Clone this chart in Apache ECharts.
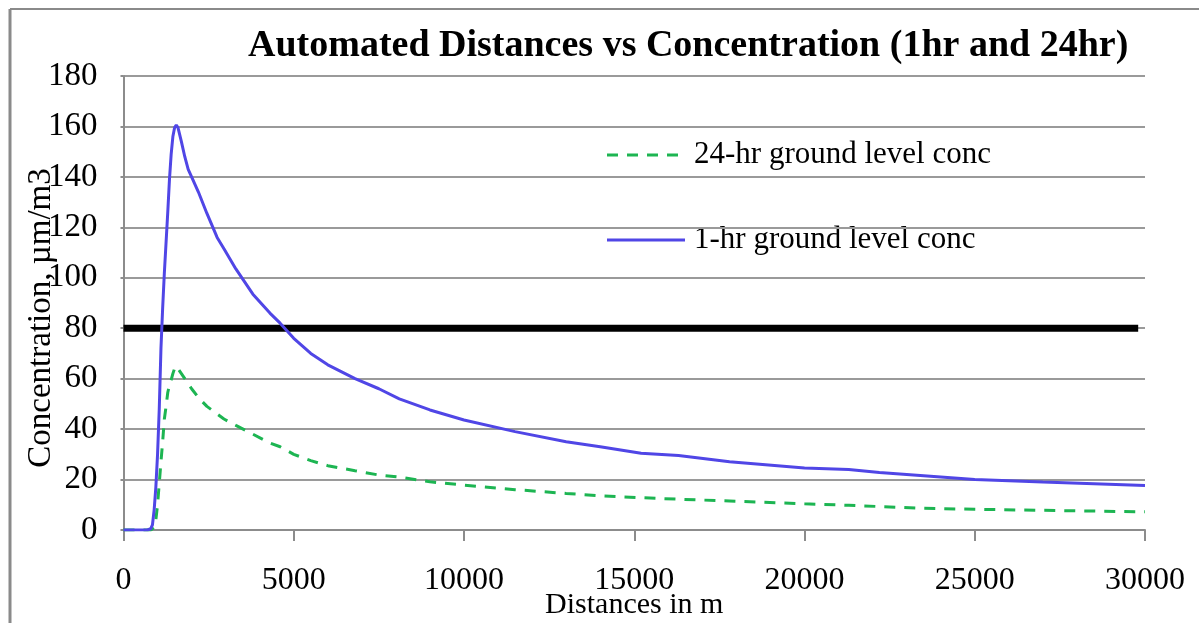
<!DOCTYPE html>
<html>
<head>
<meta charset="utf-8">
<script src="https://cdn.jsdelivr.net/npm/echarts@6/dist/echarts.min.js"></script>
<style>
html,body{margin:0;padding:0;background:#fff;}
#chart{width:1199px;height:623px;}
</style>
</head>
<body>
<div id="chart"></div>
<script>
var distances = [0,700,800,850,900,950,1000,1050,1100,1150,1200,1250,1300,1350,1400,1450,1500,1550,1600,1700,1800,1900,2000,2200,2450,2750,2950,3300,3800,4300,4600,5000,5500,6000,6800,7500,8100,9000,10000,11500,13000,14000,15200,16300,17800,20000,21300,22200,23500,25000,27000,30000];
var conc1hr = [0,0,0.5,2,8,17,30,48,72,88,102,114,126,139,149,156,159.5,160.5,159.5,154,148,143,140,134,125.5,116,111.5,103.5,93.5,86,82,76,70,65.5,60,56,52,47.6,43.6,39,35,33,30.4,29.5,27.1,24.6,24,22.8,21.5,20,19,17.6];
var conc24hr = [0,0,0,0,1,4,10,18.5,27,35,44,49,54.5,57.5,59.5,62,64,65,64,62,60,58,56,52.5,49,46,44,41.5,38,34.5,33,30,27.5,25.5,23.5,21.8,21,19.1,17.8,16,14.5,13.6,12.8,12.2,11.5,10.4,9.8,9.3,8.6,8.2,7.8,7.2];
var limitX = [0, 29800];
var limitY = [80, 80];
var xTicks = [0,5000,10000,15000,20000,25000,30000];
var yTicks = [0,20,40,60,80,100,120,140,160,180];
var seriesNames = ['24-hr ground level conc', '1-hr ground level conc'];
var titleText = 'Automated Distances vs Concentration (1hr and 24hr)';
var xName = 'Distances in m';
var yName = 'Concentration, µm/m3';

var BLUE = '#5046e6', GREEN = '#1db552';
function zip(a, b){ return a.map(function(v,i){ return [v, b[i]]; }); }

var FONT = '"Liberation Serif", "Times New Roman", serif';
var chart = echarts.init(document.getElementById('chart'));
chart.setOption({
  animation: false,
  backgroundColor: '#fff',
  title: {
    text: titleText,
    left: 243, top: 22,
    textStyle: {fontFamily: FONT, fontWeight: 'bold', fontSize: 38, color: '#000'}
  },
  grid: {left: 123.5, right: 54, top: 76, bottom: 93, containLabel: false, outerBoundsMode: 'none'},
  xAxis: {
    type: 'value', min: xTicks[0], max: xTicks[xTicks.length-1], interval: 5000,
    name: xName, nameLocation: 'middle', nameGap: 60, nameMoveOverlap: false,
    nameTextStyle: {fontFamily: FONT, fontSize: 30, color: '#000'},
    axisLine: {lineStyle: {color: '#8c8c8c', width: 2}},
    axisTick: {show: true, length: 11, lineStyle: {color: '#8c8c8c', width: 2}},
    axisLabel: {fontFamily: FONT, fontSize: 32, color: '#000', margin: 35,
      formatter: function(v){ return String(v); }},
    splitLine: {show: false}
  },
  yAxis: {
    type: 'value', min: yTicks[0], max: yTicks[yTicks.length-1], interval: 20,
    name: yName, nameLocation: 'middle', nameGap: 66, nameRotate: 90, nameMoveOverlap: false,
    nameTextStyle: {fontFamily: FONT, fontSize: 33, color: '#000', padding: [0, 30, 0, 0]},
    axisLine: {show: true, lineStyle: {color: '#8c8c8c', width: 2}},
    axisTick: {show: true, length: 3, lineStyle: {color: '#8c8c8c', width: 2}},
    axisLabel: {fontFamily: FONT, fontSize: 33, color: '#000', margin: 26},
    splitLine: {show: true, lineStyle: {color: '#9a9a9a', width: 2}}
  },
  graphic: [
    {type: 'line', shape: {x1: 10, y1: 9, x2: 10, y2: 623}, style: {stroke: '#8a8a8a', lineWidth: 3}},
    {type: 'line', shape: {x1: 10, y1: 9, x2: 1199, y2: 9}, style: {stroke: '#8a8a8a', lineWidth: 2}},
    {type: 'line', shape: {x1: 607, y1: 155, x2: 685, y2: 155}, style: {stroke: GREEN, lineWidth: 3, lineDash: [11, 9]}},
    {type: 'text', x: 694, y: 155, style: {text: seriesNames[0], fill: '#000', font: '31px ' + FONT, textVerticalAlign: 'middle', verticalAlign: 'middle'}},
    {type: 'line', shape: {x1: 607, y1: 240, x2: 685, y2: 240}, style: {stroke: BLUE, lineWidth: 3}},
    {type: 'text', x: 694, y: 240, style: {text: seriesNames[1], fill: '#000', font: '31px ' + FONT, textVerticalAlign: 'middle', verticalAlign: 'middle'}}
  ],
  series: [
    {
      name: seriesNames[0], type: 'line', data: zip(distances, conc24hr),
      showSymbol: false, symbol: 'none', z: 3,
      lineStyle: {color: GREEN, width: 3, type: [11, 9]},
      itemStyle: {color: GREEN}
    },
    {
      name: seriesNames[1], type: 'line', data: zip(distances, conc1hr),
      showSymbol: false, symbol: 'none', z: 4,
      lineStyle: {color: BLUE, width: 3},
      itemStyle: {color: BLUE}
    },
    {
      name: 'limit', type: 'line', data: zip(limitX, limitY),
      showSymbol: false, symbol: 'none', z: 2,
      lineStyle: {color: '#000', width: 7},
      itemStyle: {color: '#000'}
    }
  ]
});
</script>
</body>
</html>
